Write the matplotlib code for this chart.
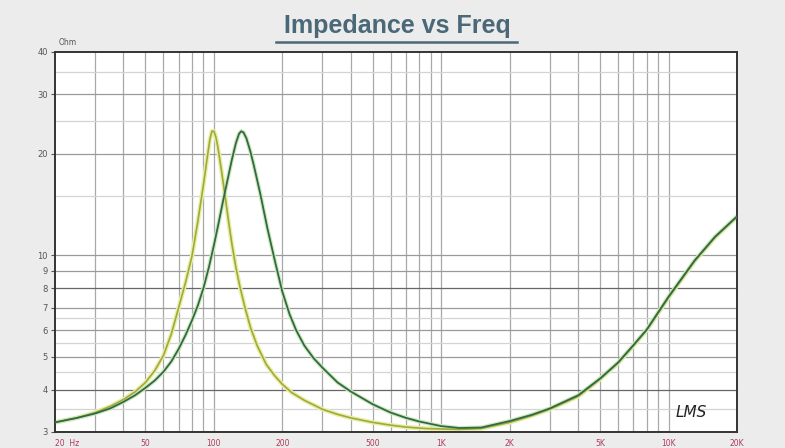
import numpy as np
import matplotlib.pyplot as plt
from matplotlib.lines import Line2D

# speaker impedance curves
freq_a = [20, 25, 30, 35, 40, 45, 50, 55, 60, 65, 70, 75, 80, 85, 90, 93, 96,
          98, 100, 102, 104, 108, 112, 116, 120, 125, 130, 137, 145, 155, 170,
          185, 200, 220, 250, 300, 350, 400, 500, 600, 700, 850, 1000, 1200,
          1500, 2000, 2500, 3000, 4000, 5000, 6000, 7000, 8000, 10000, 13000,
          16000, 20000]
imp_a = [3.2, 3.3, 3.42, 3.57, 3.74, 3.94, 4.2, 4.56, 5.05, 5.85, 7.0, 8.3,
         9.9, 12.6, 16.2, 19.0, 22.0, 23.3, 23.3, 22.4, 21.0, 17.8, 15.0, 12.6,
         10.8, 9.2, 8.1, 7.0, 6.1, 5.4, 4.75, 4.4, 4.15, 3.92, 3.72, 3.5, 3.38,
         3.3, 3.2, 3.14, 3.1, 3.07, 3.06, 3.05, 3.07, 3.2, 3.35, 3.5, 3.82,
         4.3, 4.8, 5.4, 6.0, 7.5, 9.6, 11.3, 13.0]

freq_b = [20, 25, 30, 35, 40, 45, 50, 55, 60, 65, 70, 75, 80, 85, 90, 95, 100,
          105, 110, 115, 120, 125, 129, 132, 135, 139, 145, 150, 160, 172, 187,
          200, 215, 230, 250, 275, 300, 350, 400, 500, 600, 700, 800, 1000,
          1200, 1500, 2000, 2500, 3000, 4000, 5000, 6000, 7000, 8000, 10000,
          13000, 16000, 20000]
imp_b = [3.2, 3.3, 3.4, 3.52, 3.68, 3.85, 4.05, 4.26, 4.52, 4.85, 5.28, 5.8,
         6.4, 7.1, 8.0, 9.2, 10.7, 12.5, 14.6, 16.8, 19.2, 21.5, 22.9, 23.3,
         23.1, 22.2, 20.2, 18.4, 15.2, 12.0, 9.4, 7.8, 6.7, 6.0, 5.4, 4.95,
         4.65, 4.2, 3.95, 3.62, 3.42, 3.3, 3.22, 3.12, 3.08, 3.09, 3.23, 3.37,
         3.52, 3.85, 4.32, 4.82, 5.42, 6.02, 7.55, 9.65, 11.35, 13.05]

x_major = [20, 50, 100, 200, 500, 1000, 2000, 5000, 10000, 20000]
x_labels = ['20  Hz', '50', '100', '200', '500', '1K', '2K', '5K', '10K', '20K']
x_minor = [30, 40, 60, 70, 80, 90, 300, 400, 600, 700, 800, 900,
           3000, 4000, 6000, 7000, 8000, 9000]
y_major = [3, 4, 5, 6, 7, 8, 9, 10, 20, 30, 40]
y_minor = [3.5, 4.5, 5.5, 6.5, 15, 25, 35]

fig = plt.figure(figsize=(7.85, 4.48), dpi=100, facecolor='#ececec')
ax = fig.add_axes([0.070, 0.036, 0.869, 0.848])
ax.set_facecolor('white')
ax.set_xscale('log')
ax.set_yscale('log')
ax.set_xlim(20, 20000)
ax.set_ylim(3, 40)

for f in x_major[1:-1] + x_minor:
    ax.axvline(f, color='#a8a8a8', lw=0.9, zorder=1)
for v in y_major[1:-1]:
    c = '#666666' if v in (4, 8) else '#9a9a9a'
    ax.axhline(v, color=c, lw=0.9, zorder=1)
for v in y_minor:
    ax.axhline(v, color='#d4d4d4', lw=0.9, zorder=1)

# glow then line
ax.plot(freq_a, imp_a, color='#e8efa8', lw=3.2, zorder=2,
        solid_capstyle='round', solid_joinstyle='round')
ax.plot(freq_b, imp_b, color='#d2e8b8', lw=3.0, zorder=2,
        solid_capstyle='round', solid_joinstyle='round')
ax.plot(freq_a, imp_a, color='#a2a83a', lw=1.2, zorder=3, solid_joinstyle='round')
ax.plot(freq_b, imp_b, color='#2e6a4a', lw=1.3, zorder=3, solid_joinstyle='round')

ax.set_xticks(x_major)
ax.set_xticklabels(x_labels)
ax.set_xticks([], minor=True)
ax.set_yticks(y_major)
ax.set_yticklabels([str(v) for v in y_major])
ax.set_yticks([], minor=True)
ax.tick_params(axis='x', length=0, pad=5, labelsize=5.5, labelcolor='#b03a5a')
ax.tick_params(axis='y', length=3, width=0.8, color='#555555', pad=2,
               labelsize=6, labelcolor='#555555')
ax.get_xticklabels()[0].set_ha('left')

for s in ax.spines.values():
    s.set_color('#333333')
    s.set_linewidth(1.4)

ax.text(0.005, 1.012, 'Ohm', transform=ax.transAxes, fontsize=5.5,
        color='#555555', ha='left', va='bottom')
ax.text(0.955, 0.03, 'LMS', transform=ax.transAxes, fontsize=11,
        style='italic', color='#222222', ha='right', va='bottom')

fig.text(0.506, 0.915, 'Impedance vs Freq', ha='center', va='bottom',
         fontsize=18, fontweight='bold', color='#4a6878',
         family='Liberation Sans')
fig.add_artist(Line2D([0.352, 0.658], [0.907, 0.907], color='#4a6878',
                      lw=1.8, transform=fig.transFigure))

fig.savefig('out.png', dpi=100, facecolor=fig.get_facecolor())
